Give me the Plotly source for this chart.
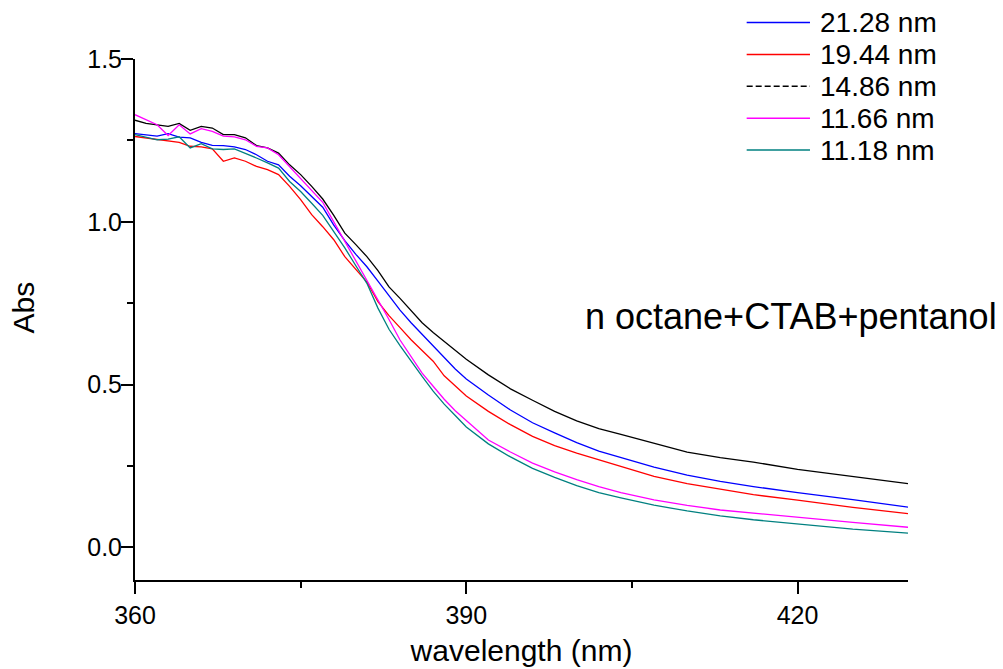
import plotly.graph_objects as go

wavelength = [360, 361, 362, 363, 364, 365, 366, 367, 368, 369, 370, 371, 372, 373, 374, 375, 376,
              377, 378, 379, 380, 381, 382, 383, 384, 385, 386, 387, 388, 389, 390,
              392, 394, 396, 398, 400, 402, 404, 407, 410, 413, 416, 420, 425, 430]

abs_2128 = [1.271, 1.267, 1.263, 1.271, 1.260, 1.258, 1.244, 1.235, 1.234, 1.230, 1.222, 1.206, 1.186, 1.175, 1.140, 1.111, 1.078,
            1.045, 0.990, 0.942, 0.900, 0.862, 0.818, 0.772, 0.729, 0.690, 0.655, 0.620, 0.583, 0.548, 0.517,
            0.468, 0.422, 0.383, 0.352, 0.322, 0.296, 0.277, 0.247, 0.222, 0.203, 0.187, 0.168, 0.147, 0.124]

abs_1944 = [1.262, 1.258, 1.254, 1.249, 1.244, 1.232, 1.230, 1.224, 1.186, 1.196, 1.186, 1.170, 1.160, 1.145, 1.109, 1.068, 1.022,
            0.985, 0.945, 0.893, 0.855, 0.815, 0.755, 0.712, 0.675, 0.638, 0.605, 0.572, 0.527, 0.497, 0.465,
            0.418, 0.377, 0.341, 0.313, 0.290, 0.270, 0.250, 0.218, 0.196, 0.178, 0.162, 0.145, 0.123, 0.104]

abs_1486 = [1.312, 1.302, 1.298, 1.293, 1.302, 1.281, 1.293, 1.288, 1.268, 1.268, 1.258, 1.234, 1.227, 1.211, 1.175, 1.145, 1.109,
            1.070, 1.020, 0.965, 0.930, 0.893, 0.850, 0.800, 0.765, 0.727, 0.690, 0.660, 0.632, 0.604, 0.578,
            0.530, 0.487, 0.452, 0.418, 0.389, 0.365, 0.347, 0.319, 0.293, 0.276, 0.262, 0.240, 0.218, 0.196]

abs_1166 = [1.329, 1.314, 1.298, 1.265, 1.298, 1.270, 1.286, 1.278, 1.263, 1.261, 1.252, 1.232, 1.227, 1.206, 1.170, 1.134, 1.098,
            1.060, 1.000, 0.940, 0.880, 0.822, 0.760, 0.700, 0.637, 0.585, 0.535, 0.495, 0.455, 0.420, 0.390,
            0.330, 0.293, 0.259, 0.232, 0.208, 0.187, 0.168, 0.146, 0.129, 0.115, 0.105, 0.092, 0.077, 0.062]

abs_1118 = [1.268, 1.260, 1.252, 1.254, 1.261, 1.227, 1.240, 1.224, 1.222, 1.224, 1.211, 1.196, 1.181, 1.165, 1.124, 1.093, 1.057,
            1.020, 0.970, 0.920, 0.865, 0.811, 0.735, 0.670, 0.620, 0.572, 0.525, 0.480, 0.440, 0.405, 0.370,
            0.318, 0.278, 0.243, 0.215, 0.190, 0.168, 0.152, 0.130, 0.112, 0.097, 0.085, 0.072, 0.056, 0.044]

series_names = ["21.28 nm", "19.44 nm", "14.86 nm", "11.66 nm", "11.18 nm"]
series_values = [abs_2128, abs_1944, abs_1486, abs_1166, abs_1118]
series_colors = ["#0000FF", "#FF0000", "#000000", "#FF00FF", "#008080"]
legend_dash = ["solid", "solid", "6px,3px", "solid", "solid"]

FONT = "Liberation Sans, Arial, sans-serif"

fig = go.Figure()
for name, vals, col in zip(series_names, series_values, series_colors):
    fig.add_trace(go.Scatter(x=wavelength, y=vals, mode="lines", name=name,
                             line=dict(color=col, width=1.3), showlegend=False))

# Origin-style legend at the top right (outside the plot area)
shapes = []
annotations = []
row_top = 1.070
row_step = 0.0612
for i, (name, col, dash) in enumerate(zip(series_names, series_colors, legend_dash)):
    yy = row_top - i * row_step
    shapes.append(dict(type="line", xref="paper", yref="paper", x0=0.7913, x1=0.8732,
                       y0=yy, y1=yy, line=dict(color=col, width=1.5, dash=dash)))
    annotations.append(dict(text=name, xref="paper", yref="paper", x=0.8836, y=yy,
                            xanchor="left", yanchor="middle", showarrow=False,
                            font=dict(size=28, family=FONT, color="black")))

annotations.append(dict(text="n octane+CTAB+pentanol", xref="paper", yref="paper",
                        x=0.580, y=0.505, xanchor="left", yanchor="middle",
                        showarrow=False, font=dict(size=36, family=FONT, color="black")))
annotations.append(dict(text="Abs", xref="paper", yref="paper", x=-0.1436, y=0.523,
                        xanchor="center", yanchor="middle", textangle=-90,
                        showarrow=False, font=dict(size=30, family=FONT, color="black")))

fig.update_layout(
    width=1003, height=669,
    margin=dict(l=135, r=95, t=59, b=89, autoexpand=False),
    plot_bgcolor="white", paper_bgcolor="white",
    font=dict(family=FONT, color="black"),
    showlegend=False,
    shapes=shapes,
    annotations=annotations,
)

fig.update_xaxes(
    range=[360, 430], tick0=360, dtick=30, ticks="outside", ticklen=12, tickwidth=2,
    tickcolor="black", showline=True, linecolor="black", linewidth=2, showgrid=False,
    zeroline=False, tickfont=dict(size=25, family=FONT),
    minor=dict(dtick=15, ticks="outside", ticklen=6, tickwidth=2, tickcolor="black"),
    title=dict(text="wavelength (nm)", font=dict(size=30, family=FONT), standoff=12),
)
fig.update_yaxes(
    range=[-0.1, 1.5], tick0=0, dtick=0.5, tickformat=".1f", ticks="outside", ticklen=12,
    tickwidth=2, tickcolor="black", showline=True, linecolor="black", linewidth=2,
    showgrid=False, zeroline=False, tickfont=dict(size=25, family=FONT),
    ticklabelstandoff=-6,
    minor=dict(dtick=0.25, ticks="outside", ticklen=6, tickwidth=2, tickcolor="black"),
)

fig.write_html("out.html", config={"displayModeBar": False},
               post_script="document.body.style.margin='0';")
